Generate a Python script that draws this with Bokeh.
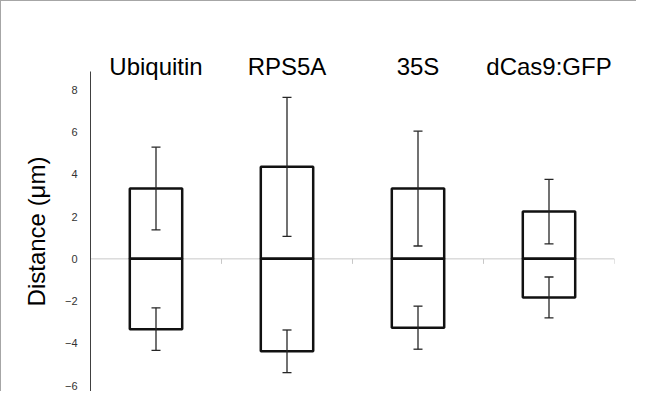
import numpy as np
from bokeh.plotting import figure
from bokeh.models import Range1d, FixedTicker, ColumnDataSource, Whisker, TeeHead, Span
from bokeh.embed import file_html
from bokeh.resources import INLINE

# ---- data ----
categories = ["Ubiquitin", "RPS5A", "35S", "dCas9:GFP"]
up_mean = [3.33, 4.36, 3.33, 2.24]
up_sd = [1.96, 3.29, 2.72, 1.53]
down_mean = [-3.33, -4.38, -3.26, -1.83]
down_sd = [1.01, 1.01, 1.02, 0.97]
y_ticks = [-6, -4, -2, 0, 2, 4, 6, 8]

# ---- derived ----
n = len(categories)
xc = [i + 0.5 for i in range(n)]
src = ColumnDataSource(dict(
    x=xc,
    up=up_mean,
    up_lo=[m - s for m, s in zip(up_mean, up_sd)],
    up_hi=[m + s for m, s in zip(up_mean, up_sd)],
    dn=down_mean,
    dn_lo=[m - s for m, s in zip(down_mean, down_sd)],
    dn_hi=[m + s for m, s in zip(down_mean, down_sd)],
))

FONT = "Liberation Sans"

p = figure(width=636, height=391, output_backend="svg", toolbar_location=None,
           x_range=Range1d(0, n), y_range=Range1d(-6.284, 8.877),
           x_axis_location="above",
           min_border_left=90, min_border_right=22, min_border_top=71, min_border_bottom=0,
           styles={"box-shadow": "inset 1px 1px 0 0 #a6a6a6"})
p.grid.visible = False
p.outline_line_color = None
p.background_fill_color = "white"
p.border_fill_color = None

# zero line with category boundary ticks
zero = Span(location=0, dimension="width", line_color="#c8c8c8", line_width=1, level="underlay")
p.add_layout(zero)
tick_len = 0.237
bounds = list(range(1, n + 1))
p.segment(x0=bounds, y0=[0] * len(bounds), x1=bounds, y1=[-tick_len] * len(bounds),
          line_color="#c8c8c8", line_width=1, level="underlay")

# bars
p.vbar(x="x", width=0.4, bottom=0, top="up", source=src,
       fill_color="white", line_color="#111111", line_width=2.5)
p.vbar(x="x", width=0.4, bottom="dn", top=0, source=src,
       fill_color="white", line_color="#111111", line_width=2.5)

# error bars
for lo, hi in (("up_lo", "up_hi"), ("dn_lo", "dn_hi")):
    w = Whisker(base="x", lower=lo, upper=hi, source=src, level="overlay",
                line_color="#262626", line_width=1.3,
                upper_head=TeeHead(size=9, line_color="#262626", line_width=1.3),
                lower_head=TeeHead(size=9, line_color="#262626", line_width=1.3))
    p.add_layout(w)

# x axis (category labels above)
xa = p.xaxis[0]
xa.ticker = FixedTicker(ticks=xc, minor_ticks=[])
xa.major_label_overrides = {x: c for x, c in zip(xc, categories)}
xa.axis_line_color = None
xa.major_tick_line_color = None
xa.minor_tick_line_color = None
xa.major_tick_out = 0
xa.major_label_text_font = FONT
xa.major_label_text_font_size = "24px"
xa.major_label_text_color = "black"
xa.major_label_standoff = -8

# y axis
ya = p.yaxis[0]
ya.ticker = FixedTicker(ticks=y_ticks, minor_ticks=[])
ya.axis_line_color = "#404040"
ya.axis_line_width = 1
ya.major_tick_line_color = None
ya.minor_tick_line_color = None
ya.major_tick_out = 0
ya.major_label_standoff = 13
ya.major_label_text_font = FONT
ya.major_label_text_font_size = "11px"
ya.major_label_text_color = "#333333"
ya.axis_label = "Distance (μm)"
ya.axis_label_text_font = FONT
ya.axis_label_text_font_size = "24px"
ya.axis_label_text_font_style = "normal"
ya.axis_label_text_color = "black"
ya.axis_label_standoff = 12

open("out.html", "w").write(file_html(p, INLINE))
